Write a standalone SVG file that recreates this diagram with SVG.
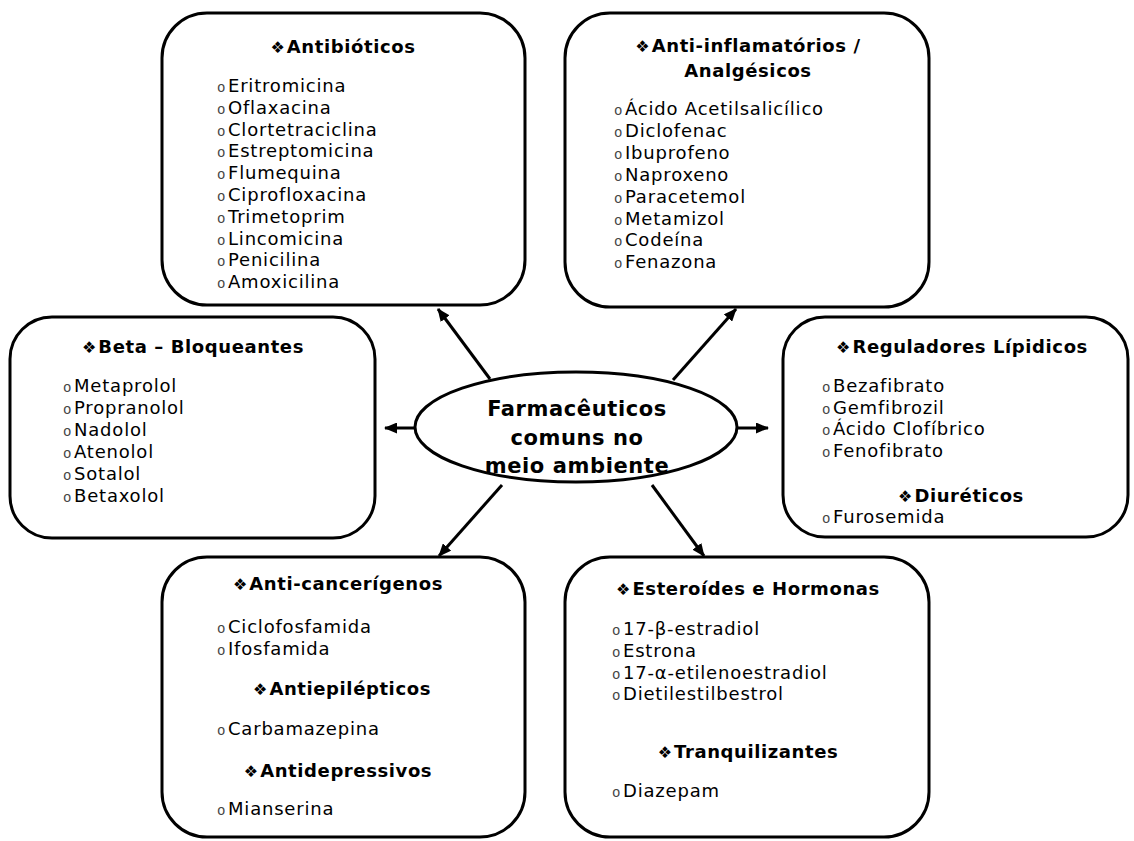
<svg xmlns="http://www.w3.org/2000/svg" width="1134" height="841" viewBox="0 0 1134 841">
<style>
.box{fill:#fff;stroke:#000;stroke-width:3}
.h{font-family:"DejaVu Sans",Verdana,sans-serif;font-weight:bold;font-size:18px;letter-spacing:0.6px;fill:#000;text-anchor:middle}
.d{font-size:16px;letter-spacing:2px;font-weight:normal}
.t{font-family:"DejaVu Sans",Verdana,sans-serif;font-size:18px;letter-spacing:0.8px;fill:#000}
.b{font-family:"Liberation Mono",monospace;font-size:14px;letter-spacing:0;fill:#444}
.c{font-family:"DejaVu Sans",Verdana,sans-serif;font-weight:bold;font-size:21px;letter-spacing:0.6px;fill:#000;text-anchor:middle}
.ar{stroke:#000;stroke-width:3;fill:none;marker-end:url(#ah)}
</style>
<defs>
<marker id="ah" markerUnits="userSpaceOnUse" markerWidth="13" markerHeight="11" refX="12" refY="5.5" orient="auto">
<path d="M0,0 L13,5.5 L0,11 z" fill="#000"/>
</marker>
</defs>
<rect width="1134" height="841" fill="#fff"/>

<g id="antibioticos">
<rect class="box" x="162" y="13" width="363" height="292" rx="45"/>
<text class="h" x="343" y="53"><tspan class="d">❖</tspan>Antibióticos</text>
<text class="t" y="92"><tspan class="b" x="217">o</tspan><tspan x="228">Eritromicina</tspan></text>
<text class="t" y="113.8"><tspan class="b" x="217">o</tspan><tspan x="228">Oflaxacina</tspan></text>
<text class="t" y="135.6"><tspan class="b" x="217">o</tspan><tspan x="228">Clortetraciclina</tspan></text>
<text class="t" y="157.4"><tspan class="b" x="217">o</tspan><tspan x="228">Estreptomicina</tspan></text>
<text class="t" y="179.2"><tspan class="b" x="217">o</tspan><tspan x="228">Flumequina</tspan></text>
<text class="t" y="201"><tspan class="b" x="217">o</tspan><tspan x="228">Ciprofloxacina</tspan></text>
<text class="t" y="222.8"><tspan class="b" x="217">o</tspan><tspan x="228">Trimetoprim</tspan></text>
<text class="t" y="244.6"><tspan class="b" x="217">o</tspan><tspan x="228">Lincomicina</tspan></text>
<text class="t" y="266.4"><tspan class="b" x="217">o</tspan><tspan x="228">Penicilina</tspan></text>
<text class="t" y="288.2"><tspan class="b" x="217">o</tspan><tspan x="228">Amoxicilina</tspan></text>
</g>

<g id="antiinflamatorios">
<rect class="box" x="565" y="13" width="364" height="294" rx="45"/>
<text class="h" x="748" y="52"><tspan class="d">❖</tspan>Anti-inflamatórios /</text>
<text class="h" x="748" y="77">Analgésicos</text>
<text class="t" y="115"><tspan class="b" x="614">o</tspan><tspan x="625">Ácido Acetilsalicílico</tspan></text>
<text class="t" y="136.9"><tspan class="b" x="614">o</tspan><tspan x="625">Diclofenac</tspan></text>
<text class="t" y="158.8"><tspan class="b" x="614">o</tspan><tspan x="625">Ibuprofeno</tspan></text>
<text class="t" y="180.7"><tspan class="b" x="614">o</tspan><tspan x="625">Naproxeno</tspan></text>
<text class="t" y="202.6"><tspan class="b" x="614">o</tspan><tspan x="625">Paracetemol</tspan></text>
<text class="t" y="224.5"><tspan class="b" x="614">o</tspan><tspan x="625">Metamizol</tspan></text>
<text class="t" y="246.4"><tspan class="b" x="614">o</tspan><tspan x="625">Codeína</tspan></text>
<text class="t" y="268.3"><tspan class="b" x="614">o</tspan><tspan x="625">Fenazona</tspan></text>
</g>

<g id="betabloqueantes">
<rect class="box" x="10" y="317" width="365" height="221" rx="42"/>
<text class="h" x="193" y="353"><tspan class="d">❖</tspan>Beta – Bloqueantes</text>
<text class="t" y="392"><tspan class="b" x="63">o</tspan><tspan x="74">Metaprolol</tspan></text>
<text class="t" y="414"><tspan class="b" x="63">o</tspan><tspan x="74">Propranolol</tspan></text>
<text class="t" y="436"><tspan class="b" x="63">o</tspan><tspan x="74">Nadolol</tspan></text>
<text class="t" y="458"><tspan class="b" x="63">o</tspan><tspan x="74">Atenolol</tspan></text>
<text class="t" y="480"><tspan class="b" x="63">o</tspan><tspan x="74">Sotalol</tspan></text>
<text class="t" y="502"><tspan class="b" x="63">o</tspan><tspan x="74">Betaxolol</tspan></text>
</g>

<g id="reguladores">
<rect class="box" x="783" y="317" width="345" height="220" rx="42"/>
<text class="h" x="962" y="353"><tspan class="d">❖</tspan>Reguladores Lípidicos</text>
<text class="t" y="392"><tspan class="b" x="822">o</tspan><tspan x="833">Bezafibrato</tspan></text>
<text class="t" y="413.7"><tspan class="b" x="822">o</tspan><tspan x="833">Gemfibrozil</tspan></text>
<text class="t" y="435.4"><tspan class="b" x="822">o</tspan><tspan x="833">Ácido Clofíbrico</tspan></text>
<text class="t" y="457.1"><tspan class="b" x="822">o</tspan><tspan x="833">Fenofibrato</tspan></text>
<text class="h" x="961" y="502"><tspan class="d">❖</tspan>Diuréticos</text>
<text class="t" y="523"><tspan class="b" x="822">o</tspan><tspan x="833">Furosemida</tspan></text>
</g>

<g id="anticancerigenos">
<rect class="box" x="162" y="557" width="363" height="280" rx="45"/>
<text class="h" x="338" y="590"><tspan class="d">❖</tspan>Anti-cancerígenos</text>
<text class="t" y="633"><tspan class="b" x="217">o</tspan><tspan x="228">Ciclofosfamida</tspan></text>
<text class="t" y="655"><tspan class="b" x="217">o</tspan><tspan x="228">Ifosfamida</tspan></text>
<text class="h" x="342" y="695"><tspan class="d">❖</tspan>Antiepilépticos</text>
<text class="t" y="735"><tspan class="b" x="217">o</tspan><tspan x="228">Carbamazepina</tspan></text>
<text class="h" x="338" y="777"><tspan class="d">❖</tspan>Antidepressivos</text>
<text class="t" y="815"><tspan class="b" x="217">o</tspan><tspan x="228">Mianserina</tspan></text>
</g>

<g id="esteroides">
<rect class="box" x="565" y="557" width="364" height="280" rx="45"/>
<text class="h" x="748" y="595"><tspan class="d">❖</tspan>Esteroídes e Hormonas</text>
<text class="t" y="635"><tspan class="b" x="612">o</tspan><tspan x="623">17-β-estradiol</tspan></text>
<text class="t" y="657"><tspan class="b" x="612">o</tspan><tspan x="623">Estrona</tspan></text>
<text class="t" y="678.5"><tspan class="b" x="612">o</tspan><tspan x="623">17-α-etilenoestradiol</tspan></text>
<text class="t" y="700"><tspan class="b" x="612">o</tspan><tspan x="623">Dietilestilbestrol</tspan></text>
<text class="h" x="748" y="758"><tspan class="d">❖</tspan>Tranquilizantes</text>
<text class="t" y="797"><tspan class="b" x="612">o</tspan><tspan x="623">Diazepam</tspan></text>
</g>

<g id="centro">
<ellipse cx="576" cy="427" rx="161" ry="55" fill="#fff" stroke="#000" stroke-width="3"/>
<text class="c" x="577" y="416">Farmacêuticos</text>
<text class="c" x="577" y="445">comuns no</text>
<text class="c" x="577" y="473">meio ambiente</text>
</g>

<g id="connectors">
<line class="ar" x1="490" y1="379" x2="438" y2="309"/>
<line class="ar" x1="673" y1="380" x2="736" y2="309"/>
<line class="ar" x1="415" y1="428" x2="385" y2="428"/>
<line class="ar" x1="738" y1="428" x2="768" y2="428"/>
<line class="ar" x1="502" y1="485" x2="439" y2="556"/>
<line class="ar" x1="652" y1="485" x2="704" y2="556"/>
</g>
</svg>
